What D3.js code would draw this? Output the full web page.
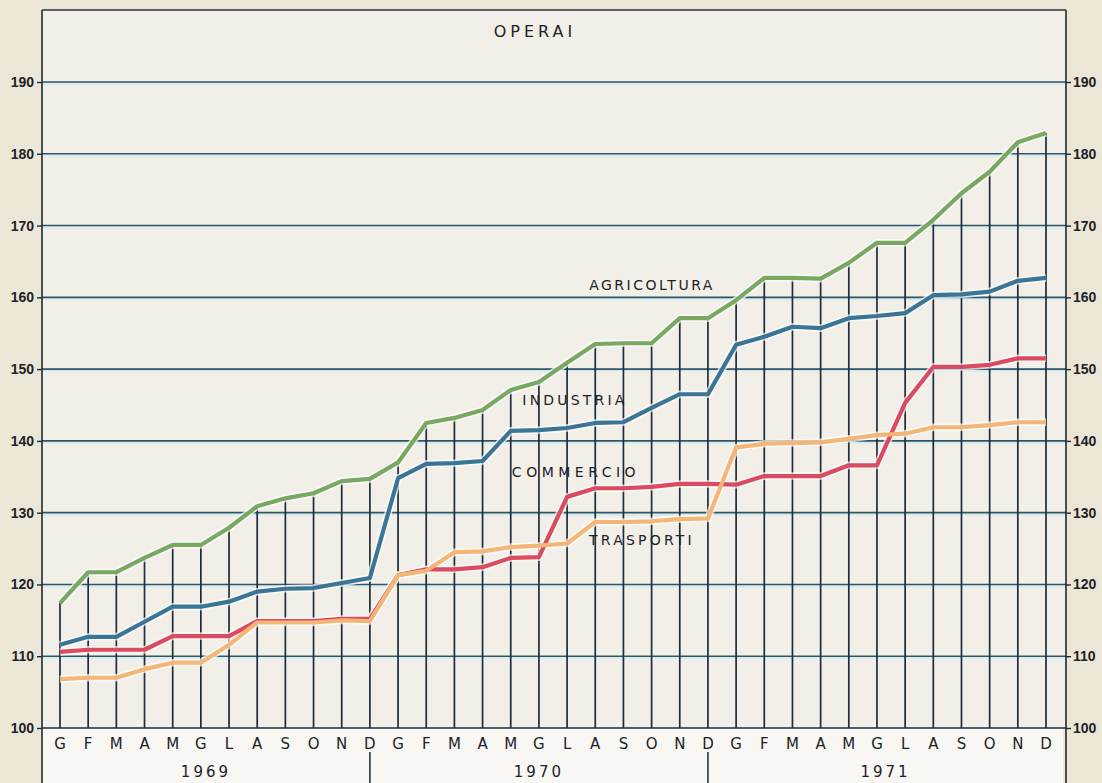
<!DOCTYPE html>
<html>
<head>
<meta charset="utf-8">
<script src="https://cdn.jsdelivr.net/npm/d3@7"></script>
<style>
  html, body { margin: 0; padding: 0; background: #ece6d6; }
  svg { display: block; }
  text { font-family: "DejaVu Sans", "Liberation Sans", sans-serif; }
</style>
</head>
<body>
<svg id="chart" width="1102" height="783"></svg>
<script>
// Indici salari minimi contrattuali — operai, 1969-1971 (base 100)
const years = ["1969", "1970", "1971"];
const monthLetters = ["G", "F", "M", "A", "M", "G", "L", "A", "S", "O", "N", "D"];
const yTicks = [100, 110, 120, 130, 140, 150, 160, 170, 180, 190];

const agricoltura = [
  117.4, 121.7, 121.7, 123.7, 125.5, 125.5, 127.9, 130.9, 132.0, 132.7, 134.4, 134.7,
  137.0, 142.5, 143.2, 144.3, 147.1, 148.2, 150.9, 153.5, 153.6, 153.6, 157.1, 157.1,
  159.6, 162.7, 162.7, 162.6, 164.8, 167.6, 167.6, 170.8, 174.5, 177.5, 181.6, 182.9
];
const industria = [
  111.6, 112.7, 112.7, 114.8, 116.9, 116.9, 117.6, 119.0, 119.4, 119.5, 120.2, 120.9,
  134.8, 136.8, 136.9, 137.2, 141.4, 141.5, 141.8, 142.5, 142.6, 144.6, 146.5, 146.5,
  153.4, 154.5, 155.9, 155.7, 157.1, 157.4, 157.8, 160.3, 160.4, 160.8, 162.3, 162.7
];
const commercio = [
  110.6, 110.9, 110.9, 110.9, 112.8, 112.8, 112.8, 114.9, 114.9, 114.9, 115.2, 115.2,
  121.3, 122.1, 122.1, 122.4, 123.7, 123.8, 132.2, 133.4, 133.4, 133.6, 134.0, 134.0,
  133.9, 135.1, 135.1, 135.1, 136.6, 136.6, 145.3, 150.3, 150.3, 150.6, 151.5, 151.5
];
const trasporti = [
  106.8, 107.0, 107.0, 108.2, 109.1, 109.1, 111.6, 114.7, 114.7, 114.7, 115.0, 114.9,
  121.3, 121.9, 124.5, 124.6, 125.2, 125.4, 125.7, 128.7, 128.7, 128.8, 129.1, 129.2,
  139.1, 139.6, 139.7, 139.8, 140.3, 140.8, 141.0, 141.9, 141.9, 142.2, 142.6, 142.6
];

const seriesNames = ["AGRICOLTURA", "INDUSTRIA", "COMMERCIO", "TRASPORTI"];
const seriesColors = ["#78a862", "#3a7596", "#da4a60", "#f4b676"];

const svg = d3.select("#chart");

// Frame geometry
const frameLeft = 42, frameRight = 1066, frameTop = 10, baseY = 728, frameBottom = 783;
const monthRowY = 744, yearRowY = 772;

const months = d3.range(36);
const x = d3.scaleLinear().domain([0, 35]).range([60, 1046]);
const y = d3.scaleLinear().domain([100, 190]).range([baseY, 82]);

// Plot background
svg.append("rect")
  .attr("x", frameLeft).attr("y", frameTop)
  .attr("width", frameRight - frameLeft).attr("height", baseY - frameTop)
  .attr("fill", "#f2efe8");

// Bottom label band
svg.append("rect")
  .attr("x", frameLeft).attr("y", baseY)
  .attr("width", frameRight - frameLeft - 3).attr("height", frameBottom - baseY)
  .attr("fill", "#f8f7f3");

// Horizontal gridlines with a pale halo
const grid = svg.append("g");
grid.selectAll("line.halo")
  .data(yTicks.filter(d => d > 100))
  .join("line")
  .attr("class", "halo")
  .attr("x1", frameLeft).attr("x2", frameRight)
  .attr("y1", d => y(d) + 2).attr("y2", d => y(d) + 2)
  .attr("stroke", "#d6ecef").attr("stroke-width", 2);
grid.selectAll("line.main")
  .data(yTicks.filter(d => d > 100))
  .join("line")
  .attr("class", "main")
  .attr("x1", frameLeft).attr("x2", frameRight)
  .attr("y1", d => y(d)).attr("y2", d => y(d))
  .attr("stroke", "#2f5566").attr("stroke-width", 1.6);

// Monthly drop lines from the top series down to the base
svg.append("g").selectAll("line")
  .data(months)
  .join("line")
  .attr("x1", d => x(d)).attr("x2", d => x(d))
  .attr("y1", d => y(agricoltura[d])).attr("y2", baseY)
  .attr("stroke", "#1f2d38").attr("stroke-width", 1.7);

// Base line
svg.append("line")
  .attr("x1", frameLeft).attr("x2", frameRight)
  .attr("y1", baseY).attr("y2", baseY)
  .attr("stroke", "#1f2d38").attr("stroke-width", 1.5);

// Series lines
const line = d3.line()
  .x((d, i) => x(i))
  .y(d => y(d));

const allSeries = [agricoltura, industria, commercio, trasporti];
const lines = svg.append("g");
// soft light fringe under each line
lines.selectAll("path.fringe")
  .data(allSeries)
  .join("path")
  .attr("class", "fringe")
  .attr("d", line)
  .attr("fill", "none")
  .attr("stroke", "#ffffff")
  .attr("stroke-opacity", 0.7)
  .attr("stroke-width", 7.5)
  .attr("stroke-linejoin", "round");
lines.selectAll("path.series")
  .data(allSeries)
  .join("path")
  .attr("class", "series")
  .attr("d", line)
  .attr("fill", "none")
  .attr("stroke", (d, i) => seriesColors[i])
  .attr("stroke-width", 4.2)
  .attr("stroke-linejoin", "round");

// Frame: left axis, right axis, top border
svg.append("line")
  .attr("x1", frameLeft).attr("x2", frameLeft).attr("y1", frameTop).attr("y2", frameBottom)
  .attr("stroke", "#1f2a33").attr("stroke-width", 1.6);
svg.append("line")
  .attr("x1", frameRight).attr("x2", frameRight).attr("y1", frameTop).attr("y2", frameBottom)
  .attr("stroke", "#1f2a33").attr("stroke-width", 1.6);
svg.append("line")
  .attr("x1", frameLeft).attr("x2", frameRight).attr("y1", frameTop).attr("y2", frameTop)
  .attr("stroke", "#2a333a").attr("stroke-width", 1.4);

// Y axes
const axisLeft = d3.axisLeft(y).tickValues(yTicks).tickSize(5).tickPadding(3);
const axisRight = d3.axisRight(y).tickValues(yTicks).tickSize(5).tickPadding(2);

const gl = svg.append("g").attr("transform", `translate(${frameLeft},0)`).call(axisLeft);
const gr = svg.append("g").attr("transform", `translate(${frameRight},0)`).call(axisRight);
[gl, gr].forEach(g => {
  g.select(".domain").remove();
  g.selectAll(".tick line").attr("stroke", "#1f2a33").attr("stroke-width", 1.4);
  g.selectAll(".tick text")
    .attr("fill", "#1c2228")
    .attr("font-size", 14)
    .attr("font-weight", "bold")
    .style("font-family", "'Liberation Sans', Arial, sans-serif");
});

// Month letters
svg.append("g").selectAll("text")
  .data(months)
  .join("text")
  .attr("x", d => x(d))
  .attr("y", monthRowY)
  .attr("text-anchor", "middle")
  .attr("dominant-baseline", "middle")
  .attr("font-size", 15)
  .attr("fill", "#1c2228")
  .text(d => monthLetters[d % 12]);

// Year separators and labels
const yearBounds = [frameLeft, x(11), x(23), frameRight - 3];
svg.append("g").selectAll("line")
  .data([x(11), x(23)])
  .join("line")
  .attr("x1", d => d).attr("x2", d => d)
  .attr("y1", 752).attr("y2", frameBottom)
  .attr("stroke", "#1f2a33").attr("stroke-width", 1.5);

svg.append("g").selectAll("text")
  .data(years)
  .join("text")
  .attr("x", (d, i) => (yearBounds[i] + yearBounds[i + 1]) / 2)
  .attr("y", yearRowY)
  .attr("text-anchor", "middle")
  .attr("dominant-baseline", "middle")
  .attr("font-size", 15)
  .attr("letter-spacing", 3)
  .attr("fill", "#1c2228")
  .text(d => d);

// Title
svg.append("text")
  .attr("x", 535).attr("y", 32)
  .attr("text-anchor", "middle")
  .attr("dominant-baseline", "middle")
  .attr("font-size", 16)
  .attr("letter-spacing", 4)
  .attr("fill", "#1c2228")
  .text("OPERAI");

// Series labels
const labelPos = [
  { x: 652, y: 286, sp: 2.5 },
  { x: 575, y: 401, sp: 3.2 },
  { x: 576, y: 473, sp: 4.5 },
  { x: 642, y: 541, sp: 3.2 }
];
svg.append("g").selectAll("text")
  .data(seriesNames)
  .join("text")
  .attr("x", (d, i) => labelPos[i].x)
  .attr("y", (d, i) => labelPos[i].y)
  .attr("text-anchor", "middle")
  .attr("dominant-baseline", "middle")
  .attr("font-size", 14)
  .attr("letter-spacing", (d, i) => labelPos[i].sp)
  .attr("fill", "#1c2228")
  .text(d => d);
</script>
</body>
</html>
